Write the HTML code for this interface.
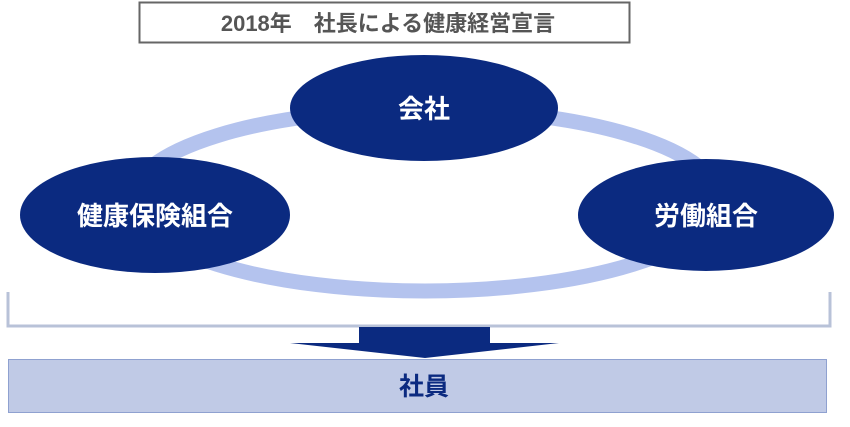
<!DOCTYPE html>
<html><head><meta charset="utf-8"><style>
body{margin:0;width:850px;height:422px;background:#fff;overflow:hidden;font-family:"Liberation Sans","Noto Sans CJK JP",sans-serif}
</style></head><body>
<svg width="850" height="422" xmlns="http://www.w3.org/2000/svg" style="font-family:'Liberation Sans','Noto Sans CJK JP',sans-serif">
<rect x="139.5" y="2.5" width="490" height="40" fill="#fff" stroke="#666" stroke-width="2"/>
<text x="388" y="31" text-anchor="middle" font-size="22" font-weight="bold" fill="#555">2018年　社長による健康経営宣言</text>
<ellipse cx="425" cy="200" rx="294" ry="91" fill="none" stroke="#b4c3ee" stroke-width="15"/>
<path d="M8 292 V326 H830 V292" fill="none" stroke="#b8c2d8" stroke-width="3"/>
<ellipse cx="424" cy="108" rx="134" ry="53" fill="#0b2a80"/>
<ellipse cx="155" cy="215" rx="135" ry="58" fill="#0b2a80"/>
<ellipse cx="706" cy="215" rx="128" ry="56" fill="#0b2a80"/>
<text x="424" y="118" text-anchor="middle" font-size="26" font-weight="bold" fill="#fff">会社</text>
<text x="155" y="225" text-anchor="middle" font-size="26" font-weight="bold" fill="#fff">健康保険組合</text>
<text x="706" y="225" text-anchor="middle" font-size="26" font-weight="bold" fill="#fff">労働組合</text>
<path d="M359 327 H490 V343 H559 L425 358 L290 343 H359 Z" fill="#0b2a80"/>
<rect x="8.5" y="359.5" width="818" height="53" fill="#c0cae6" stroke="#8fa1d0"/>
<text x="424" y="395" text-anchor="middle" font-size="25" font-weight="bold" fill="#0b2a80">社員</text>
</svg>
</body></html>
